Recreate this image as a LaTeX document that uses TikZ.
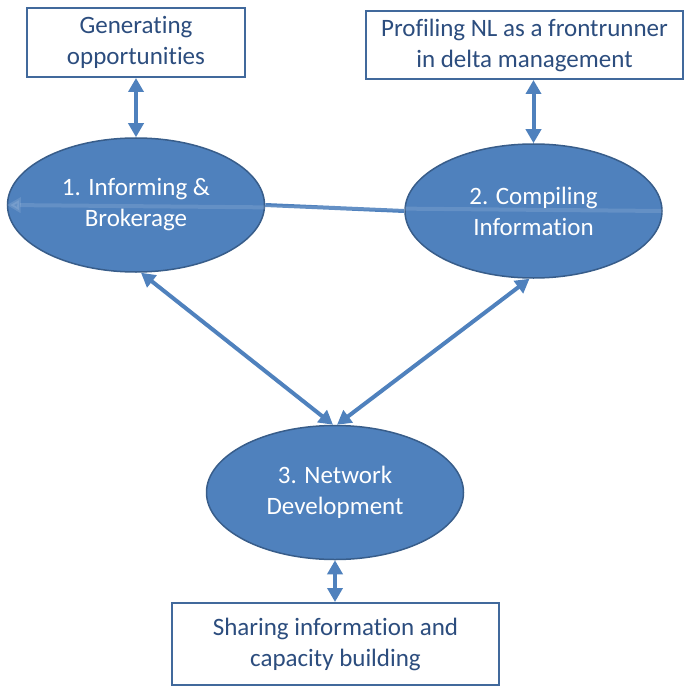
\documentclass[tikz,border=0pt]{standalone}
\usepackage{fontspec}
\setmainfont{Carlito}[Ligatures=NoCommon]
\usepackage{tikz}
\usetikzlibrary{arrows.meta,shapes.geometric}
\definecolor{EllFill}{HTML}{4F81BD}
\definecolor{EllLine}{HTML}{385D8A}
\definecolor{BoxLine}{HTML}{41699C}
\definecolor{BoxText}{HTML}{2C4D7E}
\begin{document}
\begin{tikzpicture}[x=1pt,y=-1pt]
\tikzset{
box/.style={ rectangle , draw=BoxLine , line width=2pt , fill=white ,
inner sep=0pt , align=center , text=BoxText ,
font=\fontsize{25}{31}\selectfont },
blob/.style={ ellipse , draw=EllLine , line width=1.5pt , fill=EllFill ,
minimum width=257pt , minimum height=134pt , inner sep=0pt ,
align=center , text=white , font=\fontsize{25}{31}\selectfont },
link/.style={ draw=EllFill , line width=4pt },
twoway/.style={ link , {Triangle[length=14pt,width=15pt]}-{Triangle[length=14pt,width=15pt]} }
}
\useasboundingbox (0,0) rectangle (695,687);

\node[box, minimum width=218pt, minimum height=69pt] (gen) at (136,42.5)
	{Generating\\opportunities};
\node[box, minimum width=317pt, minimum height=68pt] (prof) at (524.5,45)
	{Profiling NL as a frontrunner\\in delta management};
\node[box, minimum width=327pt, minimum height=82pt] (share) at (335.5,644)
	{Sharing information and\\capacity building};

\node[blob] (inf) at (136,205) {1. Informing \&\\Brokerage};
\node[blob] (comp) at (533.5,211) {2. Compiling\\Information};
\node[blob] (net) at (335,492.5) {3. Network\\Development};

\draw[link] (inf.east) -- (comp.west);
\draw[link, draw=white, opacity=.12, -{Triangle[length=14pt,width=15pt]}] (comp.east) -- (inf.west);

\draw[twoway] (gen.south) -- (inf.north);
\draw[twoway] (comp.north |- prof.south) -- (comp.north);
\draw[twoway] ([xshift=5pt]inf.south) -- ([xshift=-2pt]net.north);
\draw[twoway] ([xshift=-4pt]comp.south) -- ([xshift=2pt]net.north);
\draw[twoway] (net.south) -- (net.south |- share.north);

\end{tikzpicture}
\end{document}
